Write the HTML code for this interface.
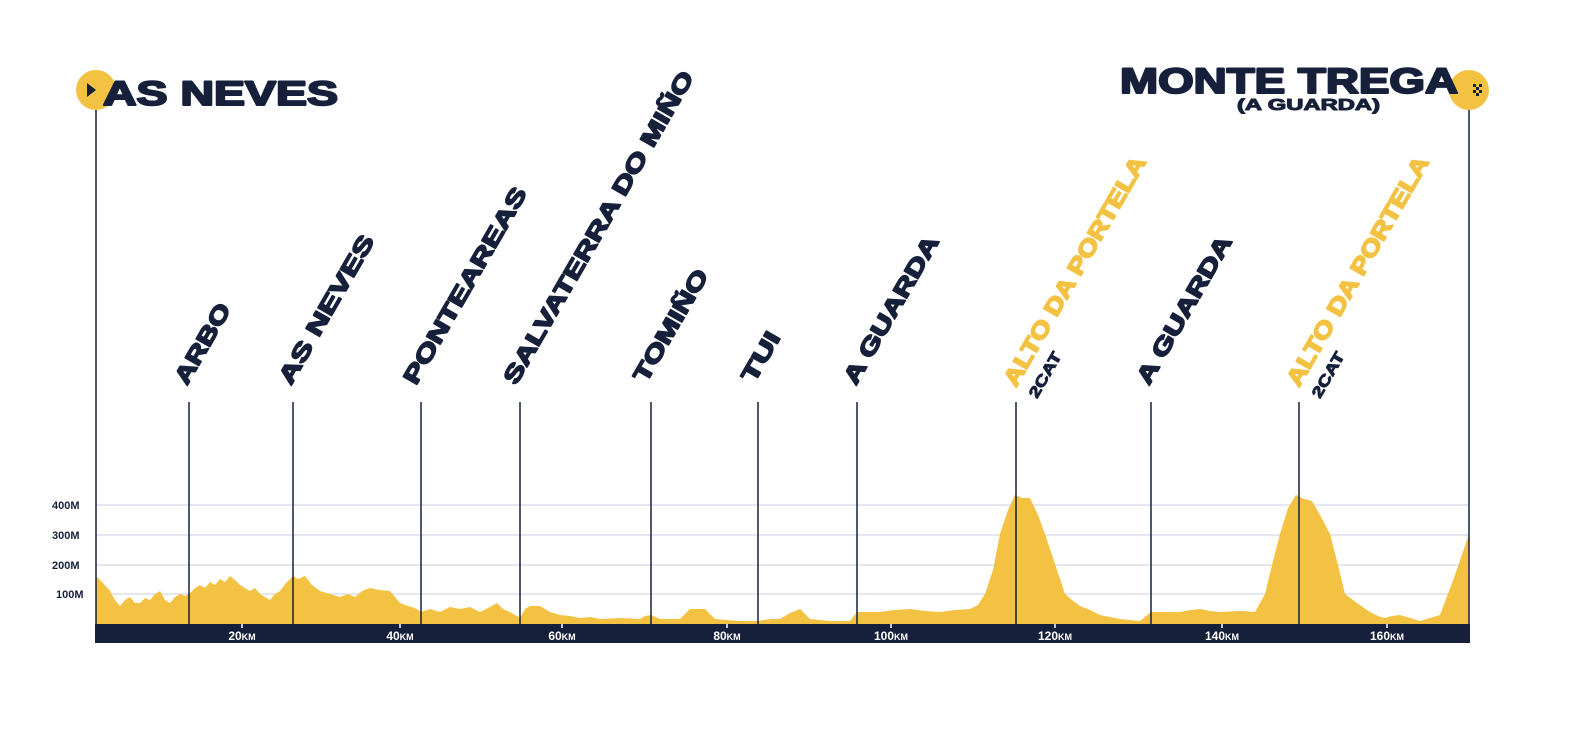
<!DOCTYPE html>
<html><head><meta charset="utf-8"><style>
html,body{margin:0;padding:0;background:#fff;}
svg{display:block;}
text{font-family:"Liberation Sans",sans-serif;font-weight:bold;}
.thick{stroke-linejoin:round;}
</style></head><body>
<svg width="1590" height="732" viewBox="0 0 1590 732">
<rect width="1590" height="732" fill="#fff"/>
<g stroke="#d5d8e6" stroke-width="1.2">
<line x1="96" y1="505" x2="1469" y2="505"/>
<line x1="96" y1="535" x2="1469" y2="535"/>
<line x1="96" y1="565" x2="1469" y2="565"/>
<line x1="96" y1="594" x2="1469" y2="594"/>
</g>
<g fill="#16203a" font-size="11">
<text x="52" y="509">400M</text>
<text x="52" y="539">300M</text>
<text x="52" y="569">200M</text>
<text x="56" y="598">100M</text>
</g>
<polygon fill="#f3c243" points="96,624 96,576 103,583 110,591 115,600 120,606 125,600 130,597 135,603 140,603 145,598 150,600 155,594 160,591 165,600 170,603 175,597 180,594 185,596 189,594 195,588 200,585 205,588 210,582 215,585 220,579 225,582 230,576 235,580 240,585 245,588 250,591 255,588 260,594 265,597 270,600 275,594 280,591 286,583 293,576 298,579 305,576 312,585 320,591 330,594 340,597 348,594 355,597 362,591 370,588 380,590 390,591 395,597 400,603 408,606 415,608 421,612 430,609 440,612 450,607 460,609 470,607 480,612 490,607 497,603 503,609 510,612 520,618 525,609 530,606 540,606 550,612 560,615 570,616 580,618 590,617 600,619 620,618 640,619 645,616 651,615 660,619 680,619 690,609 705,609 715,619 740,621 758,621 770,619 780,619 790,613 800,609 810,619 830,621 850,621 857,612 870,612 880,612 895,610 910,609 925,611 940,612 955,610 970,609 978,605 985,594 993,570 1000,534 1008,510 1015,495 1022,498 1030,498 1038,515 1045,534 1055,564 1065,594 1072,600 1080,606 1090,610 1100,615 1120,619 1140,621 1151,612 1165,612 1180,612 1190,610 1200,609 1210,611 1220,612 1240,611 1255,612 1265,594 1272,565 1280,534 1288,508 1296,495 1304,499 1312,501 1320,515 1330,534 1338,565 1345,594 1357,603 1370,612 1378,616 1385,618 1392,616 1400,615 1410,618 1420,621 1430,618 1440,615 1455,575 1469,534 1469,624"/>
<g stroke="#16203a" stroke-width="1.5">
<line x1="96" y1="105" x2="96" y2="624"/>
<line x1="1469" y1="105" x2="1469" y2="624"/>
<line x1="189" y1="402" x2="189" y2="624"/>
<line x1="293" y1="402" x2="293" y2="624"/>
<line x1="421" y1="402" x2="421" y2="624"/>
<line x1="520" y1="402" x2="520" y2="624"/>
<line x1="651" y1="402" x2="651" y2="624"/>
<line x1="758" y1="402" x2="758" y2="624"/>
<line x1="857" y1="402" x2="857" y2="624"/>
<line x1="1016" y1="402" x2="1016" y2="624"/>
<line x1="1151" y1="402" x2="1151" y2="624"/>
<line x1="1299" y1="402" x2="1299" y2="624"/>
</g>
<rect x="95" y="624" width="1375" height="19" fill="#16203a"/>
<g stroke="#fff" stroke-width="1.5">
<line x1="242" y1="624" x2="242" y2="628"/><line x1="400" y1="624" x2="400" y2="628"/>
<line x1="562" y1="624" x2="562" y2="628"/><line x1="727" y1="624" x2="727" y2="628"/>
<line x1="891" y1="624" x2="891" y2="628"/><line x1="1055" y1="624" x2="1055" y2="628"/>
<line x1="1222" y1="624" x2="1222" y2="628"/><line x1="1387" y1="624" x2="1387" y2="628"/>
</g>
<g fill="#fff" font-size="12" text-anchor="middle">
<text x="242" y="640">20<tspan font-size="9">KM</tspan></text>
<text x="400" y="640">40<tspan font-size="9">KM</tspan></text>
<text x="562" y="640">60<tspan font-size="9">KM</tspan></text>
<text x="727" y="640">80<tspan font-size="9">KM</tspan></text>
<text x="891" y="640">100<tspan font-size="9">KM</tspan></text>
<text x="1055" y="640">120<tspan font-size="9">KM</tspan></text>
<text x="1222" y="640">140<tspan font-size="9">KM</tspan></text>
<text x="1387" y="640">160<tspan font-size="9">KM</tspan></text>
</g>
<circle cx="96" cy="90" r="20" fill="#f3c243"/>
<polygon points="87,83 87,97 96,90" fill="#16203a"/>
<circle cx="1469" cy="90" r="20" fill="#f3c243"/>
<g fill="#16203a">
<rect x="1473" y="84" width="3" height="3"/><rect x="1479" y="84" width="3" height="3"/>
<rect x="1476" y="87" width="3" height="3"/><rect x="1473" y="90" width="3" height="3"/>
<rect x="1479" y="90" width="3" height="3"/><rect x="1476" y="93" width="3" height="3"/>
</g>
<g fill="#16203a" stroke="#16203a" class="thick">
<text x="103" y="105" font-size="34" stroke-width="2" textLength="235" lengthAdjust="spacingAndGlyphs">AS NEVES</text>
<text x="1120" y="93" font-size="35" stroke-width="2" textLength="338" lengthAdjust="spacingAndGlyphs">MONTE TREGA</text>
<text x="1237" y="110" font-size="16" stroke-width="1" textLength="143" lengthAdjust="spacingAndGlyphs">(A GUARDA)</text>
</g>
<g font-size="23" fill="#16203a" stroke="#16203a" stroke-width="1.6" class="thick">
<text transform="translate(187,386) rotate(-60)" textLength="89" lengthAdjust="spacingAndGlyphs">ARBO</text>
<text transform="translate(291,386) rotate(-60)" textLength="168" lengthAdjust="spacingAndGlyphs">AS NEVES</text>
<text transform="translate(416,386) rotate(-60)" textLength="223" lengthAdjust="spacingAndGlyphs">PONTEAREAS</text>
<text transform="translate(516,386) rotate(-60)" textLength="357" lengthAdjust="spacingAndGlyphs">SALVATERRA DO MIÑO</text>
<text transform="translate(646,384) rotate(-60)" textLength="126" lengthAdjust="spacingAndGlyphs">TOMIÑO</text>
<text transform="translate(754,384) rotate(-60)" textLength="54" lengthAdjust="spacingAndGlyphs">TUI</text>
<text transform="translate(856,386) rotate(-60)" textLength="167" lengthAdjust="spacingAndGlyphs">A GUARDA</text>
<text transform="translate(1149,386) rotate(-60)" textLength="167" lengthAdjust="spacingAndGlyphs">A GUARDA</text>
<text transform="translate(1016,388) rotate(-60)" textLength="261" lengthAdjust="spacingAndGlyphs" fill="#f3c243" stroke="#f3c243">ALTO DA PORTELA</text>
<text transform="translate(1299,388) rotate(-60)" textLength="261" lengthAdjust="spacingAndGlyphs" fill="#f3c243" stroke="#f3c243">ALTO DA PORTELA</text>
<text transform="translate(1037,399) rotate(-60)" font-size="15" stroke-width="1" textLength="50" lengthAdjust="spacingAndGlyphs">2CAT</text>
<text transform="translate(1320,399) rotate(-60)" font-size="15" stroke-width="1" textLength="50" lengthAdjust="spacingAndGlyphs">2CAT</text>
</g>
</svg>
</body></html>
